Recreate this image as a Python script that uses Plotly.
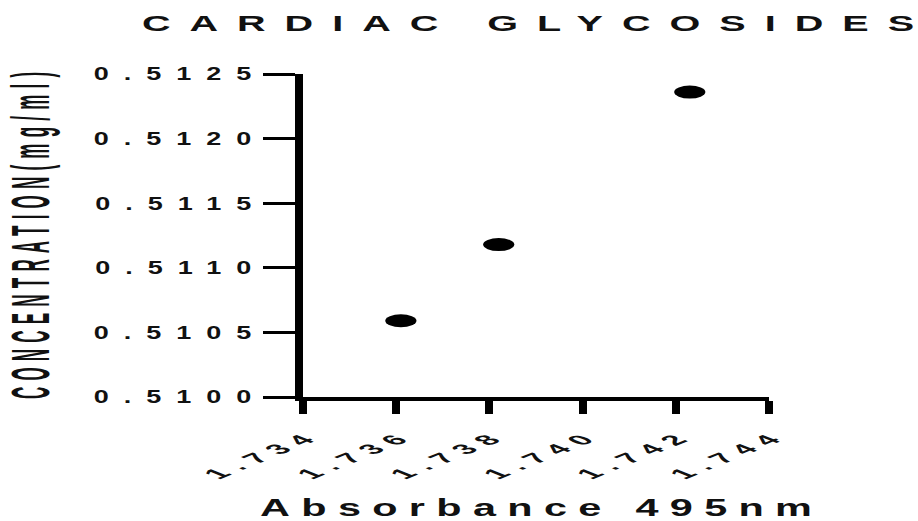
import plotly.graph_objects as go

# Absorbance at 495 nm vs. cardiac glycoside concentration
absorbance = [1.7361, 1.7382, 1.7423]
concentration = [0.51059, 0.51118, 0.51236]

x_ticks = [1.734, 1.736, 1.738, 1.740, 1.742, 1.744]
x_tick_labels = ["1.734", "1.736", "1.738", "1.740", "1.742", "1.744"]
y_ticks = [0.5100, 0.5105, 0.5110, 0.5115, 0.5120, 0.5125]
y_tick_labels = ["0.5100", "0.5105", "0.5110", "0.5115", "0.5120", "0.5125"]

FONT = "Liberation Sans, Arial, sans-serif"
INK = "#111111"

fig = go.Figure(
    go.Scatter(
        x=absorbance,
        y=concentration,
        mode="markers",
        marker=dict(size=13, color="black", line=dict(width=0)),
        showlegend=False,
        hoverinfo="x+y",
    )
)

fig.update_layout(
    width=918,
    height=521,
    margin=dict(l=303, r=149, t=74, b=124, autoexpand=False),
    paper_bgcolor="white",
    plot_bgcolor="white",
    font=dict(family=FONT, color=INK, weight="bold"),
    title=dict(
        text="CARDIAC GLYCOSIDES",
        x=528 / 918,
        xref="container",
        xanchor="center",
        y=1 - 23 / 521,
        yref="container",
        yanchor="middle",
        automargin=False,
        font=dict(size=22, family=FONT, color=INK, weight="bold"),
    ),
)

fig.update_xaxes(
    range=[x_ticks[0], x_ticks[-1]],
    tickmode="array",
    tickvals=x_ticks,
    ticktext=x_tick_labels,
    tickangle=-45,
    ticks="outside",
    ticklen=13,
    tickwidth=8,
    tickcolor="black",
    showline=True,
    linewidth=4,
    linecolor="black",
    showgrid=False,
    zeroline=False,
    automargin=False,
    ticklabelstandoff=12,
    ticklabelshift=8,
    tickfont=dict(size=14, family=FONT, color=INK, weight="bold"),
    title=dict(
        text="Absorbance 495nm",
        font=dict(size=23, family=FONT, color=INK, weight="bold"),
        standoff=48,
    ),
)

fig.update_yaxes(
    range=[y_ticks[0], y_ticks[-1]],
    tickmode="array",
    tickvals=y_ticks,
    ticktext=y_tick_labels,
    ticks="outside",
    ticklen=32,
    tickwidth=3,
    tickcolor="black",
    showline=True,
    linewidth=8,
    linecolor="black",
    showgrid=False,
    zeroline=False,
    automargin=False,
    ticklabelstandoff=8,
    tickfont=dict(size=18, family=FONT, color=INK, weight="bold"),
    title=dict(
        text="CONCENTRATION(mg/ml)",
        font=dict(size=17, family=FONT, color=INK, weight="bold"),
        standoff=145,
    ),
)

# Wide, letter-spaced lettering and oval markers, applied once the plot is drawn.
widen_script = """
var gd = document.getElementById('{plot_id}');
function anchorPoint(el) {
  var x = parseFloat(el.getAttribute('x')) || 0;
  var y = parseFloat(el.getAttribute('y')) || 0;
  var list = el.transform.baseVal;
  if (list.numberOfItems) {
    var m = list.consolidate().matrix;
    return [m.a * x + m.c * y + m.e, m.b * x + m.d * y + m.f];
  }
  return [x, y];
}
function stretchX(el, sx, shift) {
  var p = anchorPoint(el);
  var t = el.getAttribute('transform') || '';
  el.setAttribute('transform',
    'translate(' + p[0] + ',' + p[1] + ') scale(' + sx + ',1) translate(' + (-p[0]) + ',' + (-p[1]) + ') ' +
    t + ' translate(' + shift + ',0)');
}
function widen(sel, sx, spacing) {
  gd.querySelectorAll(sel).forEach(function (el) {
    var anchor = el.getAttribute('text-anchor') || (el.style.textAnchor) || 'start';
    var k = anchor === 'end' ? 1 : (anchor === 'middle' ? 0.5 : 0);
    el.style.letterSpacing = spacing + 'px';
    stretchX(el, sx, k * spacing);
  });
}
function fitLength(sel, sx, length) {
  gd.querySelectorAll(sel).forEach(function (el) {
    el.setAttribute('lengthAdjust', 'spacing');
    el.setAttribute('textLength', length);
    stretchX(el, sx, 0);
  });
}
fitLength('.gtitle', 1.8, 429);
widen('.ytick text', 1.5, 10);
widen('.xtick text', 2.5, 5);
widen('.xtitle', 1.8, 6.3);
widen('.ytitle', 3.2, 6.2);
gd.querySelectorAll('.points path.point').forEach(function (el) {
  el.setAttribute('transform', (el.getAttribute('transform') || '') + ' scale(2.4,1)');
});
"""

fig.write_html("out.html", post_script=widen_script, config={"displayModeBar": False})
